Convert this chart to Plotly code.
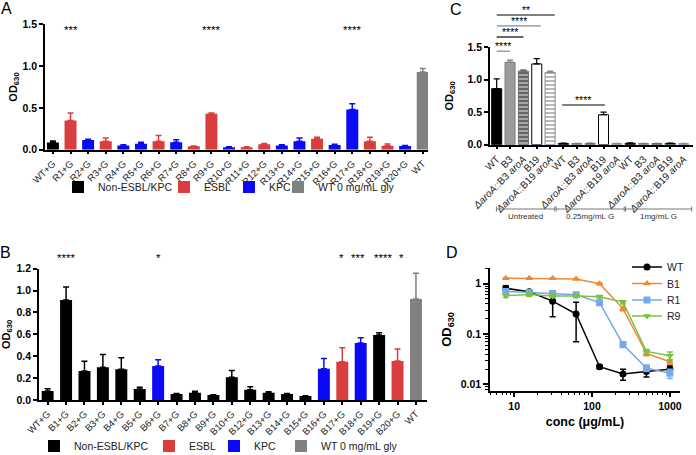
import plotly.graph_objects as go

W, H = 696, 455
def px(x): return x / W
def py(y): return 1 - y / H

FONT = "Liberation Sans, Arial, Helvetica, sans-serif"

# ---------------- Panel A data ----------------
a_cats = ["WT+G"] + [f"R{i}+G" for i in range(1, 21)] + ["WT"]
a_vals = [0.085, 0.35, 0.115, 0.10, 0.05, 0.07, 0.10, 0.09, 0.04, 0.43, 0.03,
          0.03, 0.065, 0.05, 0.10, 0.13, 0.055, 0.48, 0.10, 0.048, 0.044, 0.93]
a_err = [0.02, 0.09, 0.01, 0.04, 0.01, 0.02, 0.07, 0.03, 0.005, 0.01, 0.005,
         0.005, 0.01, 0.01, 0.04, 0.02, 0.01, 0.07, 0.05, 0.02, 0.005, 0.04]
a_group = ["Non-ESBL/KPC", "ESBL", "KPC", "ESBL", "KPC", "KPC", "ESBL", "KPC",
           "ESBL", "ESBL", "KPC", "ESBL", "ESBL", "KPC", "KPC", "ESBL", "KPC",
           "KPC", "ESBL", "ESBL", "KPC", "WT 0 mg/mL gly"]
a_stars = {"R1+G": "***", "R9+G": "****", "R17+G": "****"}

# ---------------- Panel B data ----------------
b_cats = (["WT+G"] + [f"B{i}+G" for i in range(1, 11)] +
          [f"B{i}+G" for i in range(12, 21)] + ["WT"])
b_vals = [0.082, 0.913, 0.265, 0.30, 0.28, 0.10, 0.31, 0.055, 0.067, 0.046, 0.207,
          0.094, 0.067, 0.055, 0.037, 0.286, 0.35, 0.52, 0.594, 0.356, 0.923]
b_err = [0.02, 0.12, 0.09, 0.115, 0.107, 0.016, 0.058, 0.005, 0.013, 0.003, 0.063,
         0.026, 0.009, 0.005, 0.002, 0.094, 0.128, 0.05, 0.021, 0.11, 0.235]
b_group = ["Non-ESBL/KPC"] * 6 + ["KPC"] + ["Non-ESBL/KPC"] * 8 + \
          ["KPC", "ESBL", "KPC", "Non-ESBL/KPC", "ESBL", "WT 0 mg/mL gly"]
b_stars = {"B1+G": "****", "B6+G": "*", "B17+G": "*", "B18+G": "***",
           "B19+G": "****", "B20+G": "*"}
b_star_shift = {"B17+G": -1, "B18+G": -3, "B19+G": 4, "B20+G": 4}

groups = ["Non-ESBL/KPC", "ESBL", "KPC", "WT 0 mg/mL gly"]
group_colors = {"Non-ESBL/KPC": "#000000", "ESBL": "#DA3D3D",
                "KPC": "#0A0AF5", "WT 0 mg/mL gly": "#808080"}
# legend text start (px) for each group, panels A and B
a_leg_x = [97, 203, 268, 317]
b_leg_x = [73, 188, 253, 320]

# ---------------- Panel C data ----------------
c_strains = ["WT", "B3", "<i>ΔaroA</i>::B3 <i>aroA</i>", "B19",
             "<i>ΔaroA</i>::B19 <i>aroA</i>"]
c_treat = ["Untreated", "0.25mg/mL G", "1mg/mL G"]
c_vals = {  # per strain, per treatment
    "WT": [0.86, 0.02, 0.022],
    "B3": [1.265, 0.017, 0.017],
    "<i>ΔaroA</i>::B3 <i>aroA</i>": [1.13, 0.02, 0.018],
    "B19": [1.24, 0.46, 0.02],
    "<i>ΔaroA</i>::B19 <i>aroA</i>": [1.11, 0.016, 0.016],
}
c_err = {
    "WT": [0.15, 0.005, 0.005],
    "B3": [0.035, 0.003, 0.003],
    "<i>ΔaroA</i>::B3 <i>aroA</i>": [0.02, 0.004, 0.003],
    "B19": [0.08, 0.04, 0.003],
    "<i>ΔaroA</i>::B19 <i>aroA</i>": [0.02, 0.003, 0.003],
}

# ---------------- Panel D data ----------------
d_conc = [7.8125, 15.625, 31.25, 62.5, 125, 250, 500, 1000]
d_series = ["WT", "B1", "R1", "R9"]
d_vals = {
    "WT": [0.81, 0.69, 0.45, 0.25, 0.0224, 0.016, 0.018, 0.020],
    "B1": [1.28, 1.28, 1.28, 1.24, 1.0, 0.32, 0.041, 0.028],
    "R1": [0.70, 0.67, 0.64, 0.60, 0.42, 0.062, 0.021, 0.0165],
    "R9": [0.58, 0.61, 0.57, 0.57, 0.55, 0.43, 0.045, 0.037],
}
d_err = {
    "WT": [0.10, 0.05, 0.23, 0.18, 0.002, 0.004, 0.004, 0.003],
    "B1": [0.04, 0.03, 0.03, 0.03, 0.04, 0.03, 0.004, 0.003],
    "R1": [0.08, 0.05, 0.06, 0.05, 0.03, 0.008, 0.003, 0.0035],
    "R9": [0.05, 0.05, 0.04, 0.03, 0.03, 0.03, 0.004, 0.007],
}
d_style = {
    "WT": ("#000000", "circle"),
    "B1": ("#EE8A35", "triangle-up"),
    "R1": ("#74A9EE", "square"),
    "R9": ("#79C143", "triangle-down"),
}
d_leg_y = [267, 283.5, 300, 316]

fig = go.Figure()
legends = {}
leg_font = dict(size=10.5, color="#222222", family=FONT)
nleg = [0]
def new_legend(xtext, ycen):
    nleg[0] += 1
    name = "legend" if nleg[0] == 1 else f"legend{nleg[0]}"
    legends[name] = dict(orientation="h", x=px(xtext - 39), y=py(ycen),
                         xanchor="left", yanchor="middle", font=leg_font,
                         bgcolor="rgba(0,0,0,0)", borderwidth=0)
    return name

# ---- A bars ----
for gi, g in enumerate(groups):
    idx = [i for i, gg in enumerate(a_group) if gg == g]
    fig.add_trace(go.Bar(
        x=idx, y=[a_vals[i] for i in idx], width=0.68,
        marker=dict(color=group_colors[g], line=dict(width=0)),
        error_y=dict(type="data", symmetric=False, array=[a_err[i] for i in idx],
                     arrayminus=[0] * len(idx), color=group_colors[g],
                     thickness=1.5, width=3),
        name=g, legend=new_legend(a_leg_x[gi], 187), xaxis="x", yaxis="y"))

# ---- B bars ----
for gi, g in enumerate(groups):
    idx = [i for i, gg in enumerate(b_group) if gg == g]
    fig.add_trace(go.Bar(
        x=idx, y=[b_vals[i] for i in idx], width=0.65,
        marker=dict(color=group_colors[g], line=dict(width=0)),
        error_y=dict(type="data", symmetric=False, array=[b_err[i] for i in idx],
                     arrayminus=[0] * len(idx), color=group_colors[g],
                     thickness=1.5, width=3),
        name=g, legend=new_legend(b_leg_x[gi], 446), xaxis="x2", yaxis="y2"))

# ---- C bars ----
c_styles = [
    dict(color="#000000", line=dict(color="#000000", width=1)),
    dict(color="#9C9C9C", line=dict(color="#7A7A7A", width=1)),
    dict(color="#A8A8A8", line=dict(color="#6A6A6A", width=1),
         pattern=dict(shape="-", fgcolor="#4A4A4A", bgcolor="#A8A8A8", size=4, solidity=0.35)),
    dict(color="#FFFFFF", line=dict(color="#000000", width=1)),
    dict(color="#FFFFFF", line=dict(color="#8A8A8A", width=1),
         pattern=dict(shape="-", fgcolor="#9A9A9A", bgcolor="#FFFFFF", size=4, solidity=0.35)),
]
c_errcol = ["#000000", "#7A7A7A", "#6A6A6A", "#000000", "#8A8A8A"]
ns = len(c_strains)
for si, s in enumerate(c_strains):
    xs = [ti * ns + si for ti in range(len(c_treat))]
    fig.add_trace(go.Bar(
        x=xs, y=c_vals[s], width=0.75, marker=c_styles[si],
        error_y=dict(type="data", symmetric=False, array=c_err[s],
                     arrayminus=[0] * len(xs), color=c_errcol[si],
                     thickness=1.2, width=3),
        name=s, showlegend=False, xaxis="x3", yaxis="y3"))

# ---- D lines ----
for di, s in enumerate(d_series):
    col, sym = d_style[s]
    fig.add_trace(go.Scatter(
        x=d_conc, y=d_vals[s], mode="lines+markers", name=s,
        line=dict(color=col, width=1.5),
        marker=dict(color=col, symbol=sym, size=7),
        error_y=dict(type="data", array=d_err[s], color=col, thickness=1.5, width=3),
        legend=new_legend(666, d_leg_y[di]), xaxis="x4", yaxis="y4"))

fig.update_layout(template="none", barmode="overlay")

axis_common = dict(showline=True, linecolor="black", linewidth=1.5, ticks="outside",
                   tickcolor="black", tickwidth=1.5, showgrid=False, zeroline=False,
                   automargin=False)
ytitle = dict(text="OD<sub>630</sub>", font=dict(size=11, color="black", weight="bold",
                                                   family=FONT))
ytick_font = dict(size=10.5, color="black", weight="bold", family=FONT)
xtick_font = dict(size=9.5, color="#222222", family=FONT)

fig.update_layout(
    xaxis=dict(domain=[px(45), px(428)], anchor="y", range=[-0.45, 21.3],
               tickmode="array", tickvals=list(range(len(a_cats))), ticktext=a_cats,
               tickangle=-45, tickfont=xtick_font, ticklen=3, **axis_common),
    yaxis=dict(domain=[py(149.7), py(24.3)], anchor="x", range=[0, 1.5],
               tickvals=[0, 0.5, 1.0, 1.5], tickformat=".1f", ticklen=4,
               tickfont=ytick_font, title=dict(standoff=3, **ytitle), **axis_common),
    xaxis2=dict(domain=[px(39), px(427)], anchor="y2", range=[-0.47, 20.6],
                tickmode="array", tickvals=list(range(len(b_cats))), ticktext=b_cats,
                tickangle=-45, tickfont=xtick_font, ticklen=3, **axis_common),
    yaxis2=dict(domain=[py(400), py(268.7)], anchor="x2", range=[0, 1.2],
                tickvals=[0, 0.2, 0.4, 0.6, 0.8, 1.0, 1.2], tickformat=".1f", ticklen=4,
                tickfont=ytick_font, title=dict(standoff=6, **ytitle), **axis_common),
    xaxis3=dict(domain=[px(490), px(693)], anchor="y3", range=[-0.5, 14.7],
                tickmode="array", tickvals=list(range(ns * len(c_treat))),
                ticktext=c_strains * len(c_treat), tickangle=-45,
                tickfont=dict(size=10, color="#222222", family=FONT), ticklen=3,
                **axis_common),
    yaxis3=dict(domain=[py(144.7), py(47)], anchor="x3", range=[0, 1.5],
                tickvals=[0, 0.5, 1.0, 1.5], tickformat=".1f", ticklen=4,
                tickfont=ytick_font, title=dict(standoff=12, **ytitle), **axis_common),
    xaxis4=dict(domain=[px(490), px(680)], anchor="y4", type="log", range=[0.69, 3.13],
                tickvals=[10, 100, 1000], ticktext=["10", "100", "1000"], ticklen=5,
                tickfont=ytick_font,
                minor=dict(ticks="outside", ticklen=3, tickcolor="black", tickwidth=1,
                           tickvals=[5, 6, 7, 8, 9, 20, 30, 40, 50, 60, 70, 80, 90,
                                     200, 300, 400, 500, 600, 700, 800, 900]),
                title=dict(text="conc (μg/mL)", standoff=6,
                           font=dict(size=12.5, color="black", weight="bold", family=FONT)),
                **axis_common),
    yaxis4=dict(domain=[py(390.7), py(268.3)], anchor="x4", type="log",
                range=[-2.127, 0.306], tickvals=[0.01, 0.1, 1],
                ticktext=["0.01", "0.1", "1"], ticklen=5, tickfont=ytick_font,
                minor=dict(ticks="outside", ticklen=3, tickcolor="black", tickwidth=1,
                           tickvals=[0.008, 0.009, 0.02, 0.03, 0.04, 0.05, 0.06, 0.07,
                                     0.08, 0.09, 0.2, 0.3, 0.4, 0.5, 0.6, 0.7, 0.8,
                                     0.9, 2]),
                title=dict(text="OD<sub>630</sub>", standoff=6,
                           font=dict(size=13, color="black", weight="bold", family=FONT)),
                **axis_common),
)
fig.update_layout(**legends)

ann = []
shapes = []
# panel letters
for letter, (lx, ly) in {"A": (6, 8), "B": (5, 252), "C": (456, 9), "D": (452, 252)}.items():
    ann.append(dict(text=letter, x=px(lx), y=py(ly), xref="paper", yref="paper",
                    showarrow=False, font=dict(size=16, color="black", family=FONT),
                    xanchor="center", yanchor="middle"))
# stars A and B
for cat, st in a_stars.items():
    ann.append(dict(text=st, x=a_cats.index(cat), y=py(30), xref="x", yref="paper",
                    showarrow=False, font=dict(size=11.5, color="black", family=FONT),
                    yanchor="middle"))
for cat, st in b_stars.items():
    ann.append(dict(text=st, x=b_cats.index(cat), y=py(258), xref="x2", yref="paper",
                    xshift=b_star_shift.get(cat, 0),
                    showarrow=False, font=dict(size=11.5, color="black", family=FONT),
                    yanchor="middle"))
# C significance bars: (x0, x1, line y px, color, label)
c_sig = [(0, 4.35, 15, "#000000", "**"), (0, 3.3, 25.8, "#8A8A8A", "****"),
         (0, 2.0, 37, "#000000", "****"), (0, 1.0, 51.2, "#8A8A8A", "****"),
         (4.9, 8.1, 105, "#000000", "****")]
for x0, x1, yy, col, st in c_sig:
    shapes.append(dict(type="line", xref="x3", yref="paper", x0=x0, x1=x1,
                       y0=py(yy), y1=py(yy), line=dict(color=col, width=1.2)))
    ann.append(dict(text=st, x=(x0 + x1) / 2, y=py(yy - 5), xref="x3", yref="paper",
                    showarrow=False, font=dict(size=10.5, color="black", family=FONT),
                    yanchor="middle"))
# C treatment brackets
c_brk = [(-0.02, 4.35), (4.45, 9.55), (9.65, 14.6)]
for (x0, x1), lab in zip(c_brk, c_treat):
    shapes.append(dict(type="line", xref="x3", yref="paper", x0=x0, x1=x1,
                       y0=py(209), y1=py(209), line=dict(color="#777777", width=1)))
    for xe in (x0, x1):
        shapes.append(dict(type="line", xref="x3", yref="paper", x0=xe, x1=xe,
                           y0=py(206.5), y1=py(211.5), line=dict(color="#777777", width=1)))
    ann.append(dict(text=lab, x=(x0 + x1) / 2, y=py(216.5), xref="x3", yref="paper",
                    showarrow=False, font=dict(size=8, color="#333333", family=FONT),
                    yanchor="middle"))

fig.update_layout(annotations=ann, shapes=shapes, width=W, height=H,
                  margin=dict(l=0, r=0, t=0, b=0, autoexpand=False),
                  plot_bgcolor="white", paper_bgcolor="white",
                  font=dict(family=FONT, color="black"))

fig.write_html("out.html", config={"displayModeBar": False},
               post_script="document.body.style.margin='0px';document.body.style.padding='0px';")
